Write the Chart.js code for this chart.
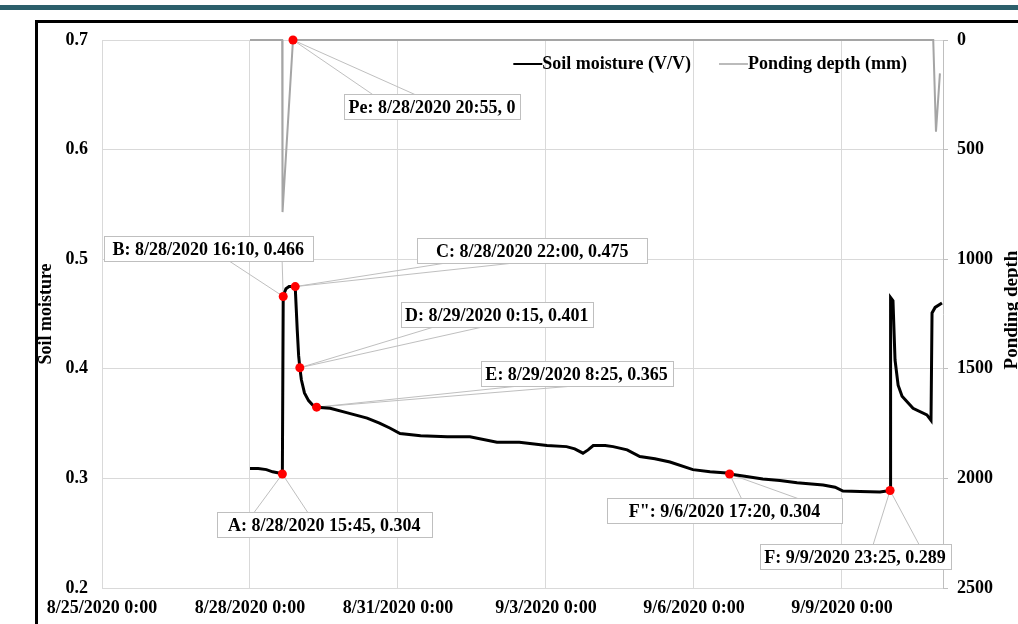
<!DOCTYPE html>
<html>
<head>
<meta charset="utf-8">
<title>Soil moisture and ponding depth</title>
<script src="https://cdn.jsdelivr.net/npm/chart.js@4.4.1/dist/chart.umd.min.js"></script>
<style>
    html, body { margin: 0; padding: 0; background: #fff; }
    #wrap { width: 1018px; height: 624px; }
</style>
</head>
<body>
<div id="wrap"><canvas id="chart" width="1018" height="624"></canvas></div>
<script>
/* Soil moisture / ponding depth time series */

// soil moisture (V/V)
var smTimes = ["8/28 0:00", "8/28 4:00", "8/28 8:00", "8/28 11:00", "8/28 14:00", "8/28 15:45",
    "8/28 16:10", "8/28 16:40", "8/28 17:30", "8/28 19:00", "8/28 22:00", "8/28 22:30", "8/28 23:00", "8/28 23:40",
    "8/29 0:15", "8/29 1:00", "8/29 2:30", "8/29 4:30", "8/29 6:30", "8/29 8:25", "8/29 15:00", "8/29 23:00",
    "8/30 9:00", "8/30 15:00", "8/30 20:00", "8/31 1:00", "8/31 11:00", "9/1 0:00", "9/1 11:00", "9/2 0:10", "9/2 11:00",
    "9/3 0:30", "9/3 10:00", "9/3 14:00", "9/3 18:00", "9/3 20:30", "9/3 23:00", "9/4 4:50", "9/4 8:40", "9/4 15:30", "9/4 21:40",
    "9/5 5:00", "9/5 12:20", "9/5 23:30", "9/6 7:50", "9/6 16:00", "9/6 17:20", "9/7 0:45", "9/7 9:30", "9/7 17:50",
    "9/8 2:10", "9/8 14:50", "9/8 20:40", "9/9 0:30", "9/9 8:50", "9/9 18:30", "9/9 23:25", "9/9 23:40", "9/10 0:50",
    "9/10 1:50", "9/10 3:20", "9/10 5:15", "9/10 10:35", "9/10 17:20", "9/10 19:20", "9/10 19:50", "9/10 21:20", "9/11 0:40"];
var smValues = [0.309, 0.309, 0.308, 0.306, 0.305, 0.304,
    0.466, 0.469, 0.473, 0.475, 0.475, 0.455, 0.435, 0.412,
    0.401, 0.390, 0.378, 0.371, 0.367, 0.365, 0.364, 0.360,
    0.355, 0.3505, 0.346, 0.341, 0.339, 0.338, 0.338, 0.333, 0.333,
    0.330, 0.329, 0.327, 0.323, 0.326, 0.330, 0.330, 0.329, 0.326, 0.320,
    0.318, 0.315, 0.308, 0.306, 0.305, 0.304, 0.302, 0.2995, 0.298,
    0.296, 0.294, 0.292, 0.2885, 0.288, 0.2875, 0.289, 0.465, 0.462,
    0.408, 0.385, 0.375, 0.364, 0.358, 0.353, 0.451, 0.456, 0.460];

// ponding depth (mm)
var pdTimes = ["8/28 0:00", "8/28 15:40", "8/28 15:50", "8/28 20:55", "9/10 20:25", "9/10 21:45", "9/10 23:40"];
var pdValues = [0, 0, 785, 0, 0, 418, 152];

// labelled points
var calloutNames = ["Pe", "B", "C", "D", "E", "A", "F\"", "F"];
var calloutTimes = ["8/28/2020 20:55", "8/28/2020 16:10", "8/28/2020 22:00", "8/29/2020 0:15",
    "8/29/2020 8:25", "8/28/2020 15:45", "9/6/2020 17:20", "9/9/2020 23:25"];
var calloutValues = [0, 0.466, 0.475, 0.401, 0.365, 0.304, 0.304, 0.289];
var calloutAxes = ["y2", "y", "y", "y", "y", "y", "y", "y"];

// axes
var xMin = "8/25/2020 0:00";
var xMax = "9/11/2020 1:10";
var xTickLabels = ["8/25/2020 0:00", "8/28/2020 0:00", "8/31/2020 0:00", "9/3/2020 0:00", "9/6/2020 0:00", "9/9/2020 0:00"];
var yLeftTicks = ["0.2", "0.3", "0.4", "0.5", "0.6", "0.7"];
var yRightTicks = ["0", "500", "1000", "1500", "2000", "2500"];

// callout box placement: centre offset from the point (px), box width, wedge base (fractions of width)
var calloutLayout = [
    { dx: 139, dy: 66, w: 176, base: [0.16, 0.40] },
    { dx: -75, dy: -48, w: 209, base: [0.60, 0.85] },
    { dx: 237, dy: -36, w: 230, base: [0.11, 0.40] },
    { dx: 197, dy: -53, w: 192, base: [0.16, 0.41] },
    { dx: 260, dy: -34, w: 192, base: [0.17, 0.45] },
    { dx: 42, dy: 50, w: 215, base: [0.17, 0.42] },
    { dx: -5, dy: 36, w: 235, base: [0.57, 0.81] },
    { dx: -35, dy: 66, w: 191, base: [0.59, 0.83] }
];

var FONT = "'Liberation Serif', 'Times New Roman', serif";
var GRID = "#d9d9d9";
var PONDING_COLOR = "#a5a5a5";

function toTime(s) {
    var m = s.match(/(\d+)\/(\d+)(?:\/\d+)? (\d+):(\d+)/);
    return Date.UTC(2020, +m[1] - 1, +m[2], +m[3], +m[4]);
}

function pairs(times, values) {
    return times.map(function(t, i) { return { x: toTime(t), y: values[i] }; });
}

var soilPts = pairs(smTimes, smValues);
var pondPts = pairs(pdTimes, pdValues);

var dotsSoil = [], dotsPond = [];
calloutTimes.forEach(function(t, i) {
    var p = { x: toTime(t), y: calloutValues[i] };
    if (calloutAxes[i] === "y2") dotsPond.push(p); else dotsSoil.push(p);
});

// page frame + teal band
var framePlugin = {
    id: "frame",
    beforeDraw: function(chart) {
        var ctx = chart.ctx;
        ctx.save();
        ctx.fillStyle = "#fff";
        ctx.fillRect(0, 0, chart.width, chart.height);
        ctx.fillStyle = "#2c5f6b";
        ctx.fillRect(0, 5, chart.width, 5);
        ctx.strokeStyle = "#000";
        ctx.lineWidth = 3;
        ctx.strokeRect(36.5, 21.5, chart.width + 40, chart.height + 40);
        ctx.restore();
    }
};

// Excel-style data callouts, legend and axis titles
var calloutPlugin = {
    id: "callouts",
    beforeDatasetsDraw: function(chart) {
        var ctx = chart.ctx;
        var xs = chart.scales.x;
        ctx.save();
        ctx.font = "bold 18px " + FONT;
        ctx.textAlign = "center";
        ctx.textBaseline = "middle";
        calloutNames.forEach(function(name, i) {
            var lay = calloutLayout[i];
            var px = xs.getPixelForValue(toTime(calloutTimes[i]));
            var py = chart.scales[calloutAxes[i]].getPixelForValue(calloutValues[i]);
            var h = 25;
            var cx = px + lay.dx, cy = py + lay.dy;
            var left = Math.round(cx - lay.w / 2) + 0.5;
            var top = Math.round(cy - h / 2) + 0.5;
            var edgeY = lay.dy > 0 ? top : top + h;

            ctx.strokeStyle = "#bfbfbf";
            ctx.lineWidth = 1;
            ctx.beginPath();
            ctx.moveTo(left + lay.w * lay.base[0], edgeY);
            ctx.lineTo(px, py);
            ctx.lineTo(left + lay.w * lay.base[1], edgeY);
            ctx.stroke();

            ctx.fillStyle = "#fff";
            ctx.fillRect(left, top, lay.w, h);
            ctx.strokeRect(left, top, lay.w, h);

            ctx.fillStyle = "#000";
            ctx.fillText(name + ": " + calloutTimes[i] + ", " + calloutValues[i], cx, top + h / 2 + 1);
        });
        ctx.restore();
    },
    afterDraw: function(chart) {
        var ctx = chart.ctx;
        var area = chart.chartArea;
        ctx.save();
        ctx.fillStyle = "#000";
        ctx.textBaseline = "middle";

        // legend, top right inside the plot
        ctx.font = "bold 18px " + FONT;
        var items = [chart.data.datasets[1], chart.data.datasets[2]];
        var sample = 29, gap = 28;
        var total = 0;
        items.forEach(function(d, i) { total += sample + ctx.measureText(d.label).width + (i ? gap : 0); });
        var lx = area.right - 36 - total;
        var ly = area.top + 24;
        items.forEach(function(d, i) {
            if (i) lx += gap;
            ctx.strokeStyle = d.borderColor;
            ctx.lineWidth = i ? 1.5 : 2;
            ctx.beginPath();
            ctx.moveTo(lx, ly);
            ctx.lineTo(lx + sample, ly);
            ctx.stroke();
            lx += sample;
            ctx.textAlign = "left";
            ctx.fillText(d.label, lx, ly);
            lx += ctx.measureText(d.label).width;
        });

        // axis titles, both reading bottom to top
        var midY = (area.top + area.bottom) / 2;
        ctx.textAlign = "center";
        ctx.font = "bold 18px " + FONT;
        ctx.translate(46, midY);
        ctx.rotate(-Math.PI / 2);
        ctx.fillText("Soil moisture", 0, 0);
        ctx.setTransform(1, 0, 0, 1, 0, 0);
        ctx.font = "bold 19px " + FONT;
        ctx.translate(1012, midY - 4);
        ctx.rotate(-Math.PI / 2);
        ctx.fillText("Ponding depth", 0, 0);
        ctx.restore();
    }
};

function setTicks(labels, parse) {
    return function(scale) {
        scale.ticks = labels.map(function(s) { return { value: parse(s) }; });
    };
}

var tickFont = { family: FONT, size: 18, weight: "bold" };

new Chart(document.getElementById("chart"), {
    type: "line",
    data: {
        datasets: [
            {
                label: "points", data: dotsSoil, yAxisID: "y", showLine: false,
                pointRadius: 4.5, pointBackgroundColor: "#ff0000", pointBorderWidth: 0, clip: false
            },
            {
                label: "Soil moisture (V/V)", data: soilPts, yAxisID: "y",
                borderColor: "#000", borderWidth: 3, pointRadius: 0, tension: 0, clip: false
            },
            {
                label: "Ponding depth (mm)", data: pondPts, yAxisID: "y2",
                borderColor: PONDING_COLOR, borderWidth: 2, pointRadius: 0, tension: 0, clip: false
            },
            {
                label: "points2", data: dotsPond, yAxisID: "y2", showLine: false,
                pointRadius: 4.5, pointBackgroundColor: "#ff0000", pointBorderWidth: 0, clip: false, order: -1
            }
        ]
    },
    options: {
        responsive: false,
        animation: false,
        devicePixelRatio: 1,
        layout: { padding: { top: 40, left: 0, right: 0, bottom: 0 } },
        plugins: { legend: { display: false }, tooltip: { enabled: false } },
        scales: {
            x: {
                type: "linear",
                min: toTime(xMin),
                max: toTime(xMax),
                afterBuildTicks: setTicks(xTickLabels, toTime),
                afterFit: function(s) { s.height = 36; },
                grid: { color: GRID, drawTicks: false },
                border: { color: GRID },
                ticks: {
                    font: tickFont, color: "#000", padding: 10, maxRotation: 0, autoSkip: false,
                    callback: function(v, i) { return xTickLabels[i]; }
                }
            },
            y: {
                position: "left",
                min: 0.2, max: 0.7,
                afterBuildTicks: setTicks(yLeftTicks, parseFloat),
                afterFit: function(s) { s.width = 102; },
                grid: { color: GRID, drawTicks: false },
                border: { color: GRID },
                ticks: {
                    font: tickFont, color: "#000", padding: 14,
                    callback: function(v, i) { return yLeftTicks[i]; }
                }
            },
            y2: {
                position: "right",
                reverse: true,
                min: 0, max: 2500,
                afterBuildTicks: setTicks(yRightTicks, parseFloat),
                afterFit: function(s) { s.width = 75; },
                grid: { drawOnChartArea: false, color: "#bfbfbf", tickLength: 5 },
                border: { color: "#bfbfbf" },
                ticks: {
                    font: tickFont, color: "#000", padding: 9,
                    callback: function(v, i) { return yRightTicks[i]; }
                }
            }
        }
    },
    plugins: [framePlugin, calloutPlugin]
});
</script>
</body>
</html>
